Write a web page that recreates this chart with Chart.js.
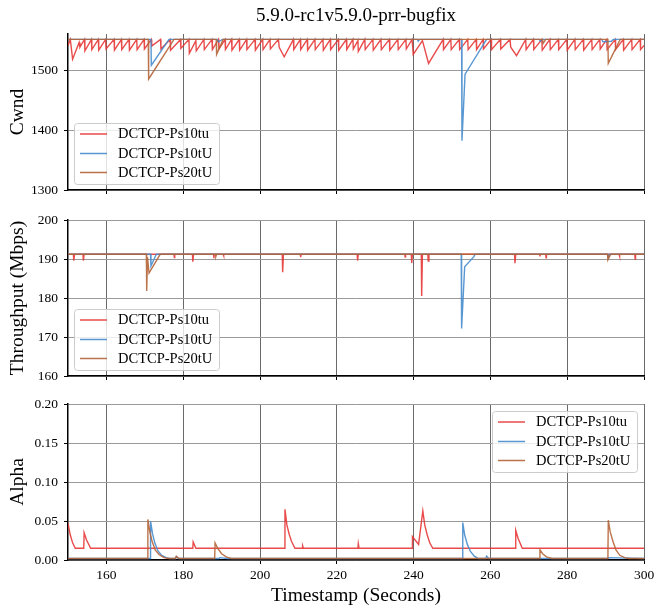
<!DOCTYPE html>
<html>
<head>
<meta charset="utf-8">
<script src="https://cdn.jsdelivr.net/npm/chart.js@4.4.0/dist/chart.umd.min.js"></script>
<style>
body{margin:0;background:#fff;}
#wrap{position:relative;width:664px;height:615px;}
canvas{position:absolute;left:0;}
</style>
</head>
<body>
<div id="wrap">
<canvas id="cwnd" width="664" height="200" style="top:0"></canvas>
<canvas id="tput" width="664" height="190" style="top:200px"></canvas>
<canvas id="alpha" width="664" height="225" style="top:390px"></canvas>
</div>
<script>
// labels and ticks
let title = "5.9.0-rc1v5.9.0-prr-bugfix";
let names = ["DCTCP-Ps10tu", "DCTCP-Ps10tU", "DCTCP-Ps20tU"];
let xTicks = [160, 180, 200, 220, 240, 260, 280, 300];
let cwndTicks = [1300, 1400, 1500];
let tputTicks = [160, 170, 180, 190, 200];
let alphaTicks = [0, 0.05, 0.10, 0.15, 0.20];
let alphaTickLabels = ["0.00", "0.05", "0.10", "0.15", "0.20"];

// [timestamp, value]
let cwndRed = [
[150.0,1541],[150.6,1551],[151.2,1518],[152.9,1546],[153.1,1538],[154.3,1551],
[154.4,1532],[156.1,1551],[156.2,1534],[157.9,1551],[158.0,1533],[159.8,1551],
[159.9,1535],[162.0,1551],[162.1,1533],[163.9,1551],[164.0,1534],[165.9,1551],
[166.0,1533],[167.9,1551],[168.0,1534],[169.8,1551],[169.9,1535],[171.7,1551],
[171.8,1540],[174.1,1551],[174.2,1535],[176.6,1551],[176.7,1533],[179.3,1551],
[179.4,1536],[181.5,1551],[181.6,1528],[183.3,1549],[183.4,1532],[185.4,1551],
[185.5,1534],[187.5,1551],[187.6,1534],[189.2,1551],[189.3,1535],[190.9,1551],
[191.0,1534],[192.6,1551],[192.7,1533],[194.6,1551],[194.7,1533],[196.5,1551],
[196.6,1534],[198.7,1551],[198.8,1533],[200.7,1551],[200.8,1534],[202.6,1551],
[202.7,1535],[204.8,1551],[205.0,1538],[206.3,1522],[208.7,1551],[208.8,1534],
[210.5,1551],[210.6,1534],[212.3,1551],[212.4,1533],[214.3,1551],[214.4,1534],
[216.4,1551],[216.5,1533],[218.3,1551],[218.4,1534],[220.4,1551],[220.5,1533],
[222.5,1551],[222.6,1534],[224.2,1551],[224.3,1535],[225.5,1549],[225.6,1531],
[227.3,1551],[227.4,1534],[229.4,1551],[229.5,1533],[231.5,1551],[231.6,1534],
[233.7,1551],[233.8,1533],[235.9,1551],[236.0,1534],[238.0,1551],[238.1,1535],
[239.6,1551],[239.9,1526],[242.3,1549],[243.9,1511],[247.7,1551],[247.8,1534],
[249.7,1551],[249.8,1534],[251.9,1551],[252.0,1534],[254.1,1551],[254.2,1534],
[256.3,1551],[256.4,1534],[258.1,1551],[258.2,1535],[260.2,1551],[260.3,1534],
[262.6,1551],[262.7,1535],[265.1,1551],[265.3,1538],[266.8,1524],[269.2,1551],
[269.3,1534],[271.2,1551],[271.3,1534],[273.4,1551],[273.5,1533],[275.5,1551],
[275.6,1534],[277.7,1551],[277.8,1534],[279.9,1551],[280.0,1533],[282.0,1551],
[282.1,1534],[284.2,1551],[284.3,1533],[286.4,1551],[286.5,1534],[288.5,1551],
[288.6,1535],[290.3,1551],[290.4,1534],[292.5,1551],[292.6,1534],[294.6,1551],
[294.7,1533],[296.8,1551],[296.9,1534],[299.0,1551],[299.1,1534],[300.0,1541]
];
let cwndBlue = [
[150,1551],[171.6,1551],[171.7,1508],[176.3,1551],[188.9,1551],[189.2,1547],
[190.2,1551],[241.0,1551],[241.2,1548],[241.6,1551],[252.5,1551],[252.6,1382],
[253.4,1493],[259.0,1551],[272.8,1551],[273.0,1548],[273.4,1551],[289.0,1551],
[289.3,1547],[291.5,1548],[292.0,1551],[300,1551]
];
let cwndBrown = [
[150,1551],[170.9,1551],[171.0,1485],[177.6,1551],[188.6,1551],[188.7,1526],
[190.4,1551],[273.6,1551],[273.7,1544],[274.4,1551],[290.6,1551],[290.7,1511],
[293.8,1551],[300,1551]
];

let tputRed = [
[150,191.2],[151.4,191.2],[151.5,189.6],[151.7,191.2],[153.9,191.2],[154.0,189.6],
[154.2,191.2],[177.6,191.2],[177.7,190.4],[177.8,191.2],[182.4,191.2],[182.5,189.3],
[182.7,191.2],[187.9,191.2],[188.0,190.2],[188.1,191.2],[190.4,191.2],[190.5,190.8],
[190.6,191.2],[205.8,191.2],[205.9,186.6],[206.1,191.2],[210.5,191.2],[210.6,190.5],
[210.7,191.2],[225.3,191.2],[225.4,189.6],[225.6,191.2],[237.7,191.2],[237.8,190.5],
[237.9,191.2],[239.4,191.2],[239.5,189.0],[239.7,191.2],[242.0,191.2],[242.1,180.5],
[242.3,191.2],[243.7,191.2],[243.8,189.5],[244.0,191.2],[266.3,191.2],[266.4,188.9],
[266.6,191.2],[272.8,191.2],[272.9,190.7],[273.0,191.2],[274.4,191.2],[274.5,190.3],
[274.6,191.2],[293.5,191.2],[293.6,190.7],[293.7,191.2],[297.6,191.2],[297.7,190.0],
[297.8,191.2],[300,191.2]
];
let tputBlue = [
[150,191.2],[171.5,191.2],[171.6,188.2],[173.0,191.2],[252.4,191.2],[252.5,172.2],
[253.3,188.0],[255.7,190.6],[256.0,191.2],[290.5,191.2],[290.7,190.4],[291.0,191.2],
[300,191.2]
];
let tputBrown = [
[150,191.2],[170.4,191.2],[170.5,181.8],[170.7,190.5],[171.1,186.4],[174.0,191.2],
[188.4,191.2],[188.5,190.6],[188.7,191.2],[290.5,191.2],[290.6,189.8],[291.3,191.2],
[300,191.2]
];

let alphaRed = [
[150,0.047],[150.6,0.032],[151.2,0.022],[151.9,0.015],[154.1,0.015],[154.2,0.035],
[154.8,0.026],[155.9,0.015],[182.5,0.015],[182.6,0.023],[183.3,0.015],[206.4,0.015],
[206.5,0.065],[207.0,0.045],[207.6,0.033],[208.2,0.024],[209.1,0.015],[211.0,0.015],
[211.1,0.018],[211.3,0.015],[225.5,0.015],[225.6,0.021],[225.8,0.015],[239.6,0.015],
[239.7,0.030],[241.3,0.020],[242.4,0.063],[242.9,0.045],[243.5,0.033],[244.2,0.022],
[245.0,0.015],[266.5,0.015],[266.6,0.038],[267.2,0.028],[268.3,0.015],[300,0.015]
];
let alphaBlue = [
[150,0.002],[171.4,0.002],[171.5,0.050],[172.0,0.034],[172.6,0.022],[173.4,0.012],
[174.4,0.006],[175.6,0.003],[176.6,0.002],[178.0,0.002],[178.2,0.004],[178.8,0.002],
[189.3,0.002],[189.6,0.003],[191.5,0.002],[252.7,0.002],[252.8,0.048],[253.3,0.032],
[254.0,0.020],[254.8,0.011],[255.8,0.005],[256.8,0.002],[258.8,0.002],[259.0,0.005],
[259.6,0.002],[290.5,0.002],[290.8,0.003],[300,0.002]
];
let alphaBrown = [
[150,0.002],[170.7,0.002],[170.8,0.052],[171.3,0.036],[171.9,0.024],[172.7,0.013],
[173.7,0.007],[175.0,0.003],[176.2,0.002],[178.0,0.002],[178.2,0.005],[178.9,0.002],
[188.2,0.002],[188.3,0.022],[189.0,0.015],[190.0,0.008],[191.2,0.004],[192.5,0.002],
[272.8,0.002],[272.9,0.013],[273.6,0.008],[274.6,0.004],[276.0,0.002],[290.6,0.002],
[290.7,0.051],[291.2,0.036],[291.9,0.024],[292.7,0.013],[293.7,0.006],[295.0,0.003],
[296.0,0.002],[300,0.002]
];

Chart.defaults.font.family = "'Liberation Serif', 'Times New Roman', serif";
Chart.defaults.color = "#000";

let RED = "rgba(230,50,50,0.88)";
let BLUE = "rgba(70,140,205,0.9)";
let BROWN = "rgba(180,100,55,0.9)";

function series(label, arr, color, order){
    return {
        label: label,
        data: arr.map(p => ({x: p[0], y: p[1]})),
        borderColor: color,
        borderWidth: 1.4,
        pointRadius: 0,
        fill: false,
        tension: 0,
        order: order
    };
}

// legend box drawn inside the plot area, like matplotlib
let boxLegend = {
    id: "boxLegend",
    afterDraw(chart, args, opts){
        let ctx = chart.ctx, a = chart.chartArea;
        let w = 145, h = 61;
        let x = opts.corner == "tr" ? a.right - 7 - w : a.left + 6;
        let y = opts.corner == "tr" ? a.top + 7 : a.bottom - 6 - h;
        let rows = [11, 30.5, 49.5];
        ctx.save();
        ctx.beginPath();
        if(ctx.roundRect) ctx.roundRect(x + 0.5, y + 0.5, w, h, 3);
        else ctx.rect(x + 0.5, y + 0.5, w, h);
        ctx.fillStyle = "rgba(255,255,255,0.8)";
        ctx.fill();
        ctx.strokeStyle = "#cccccc";
        ctx.lineWidth = 1;
        ctx.stroke();
        chart.data.datasets.forEach((ds, i) => {
            let yy = y + rows[i];
            ctx.strokeStyle = ds.borderColor;
            ctx.lineWidth = 1.5;
            ctx.beginPath();
            ctx.moveTo(x + 6, yy);
            ctx.lineTo(x + 33, yy);
            ctx.stroke();
            ctx.fillStyle = "#000";
            ctx.font = "14.5px 'Liberation Serif', serif";
            ctx.textBaseline = "middle";
            ctx.textAlign = "left";
            ctx.fillText(ds.label, x + 44, yy + 0.5);
        });
        ctx.restore();
    }
};

let plotTitle = {
    id: "plotTitle",
    afterDraw(chart, args, opts){
        if(!opts.text) return;
        let ctx = chart.ctx, a = chart.chartArea;
        ctx.save();
        ctx.fillStyle = "#000";
        ctx.font = "19px 'Liberation Serif', serif";
        ctx.textAlign = "center";
        ctx.textBaseline = "middle";
        ctx.fillText(opts.text, (a.left + a.right) / 2, 16.5);
        ctx.restore();
    }
};

function panel(id, p){
    return new Chart(document.getElementById(id), {
        type: "line",
        data: {
            datasets: [
                series(names[0], p.data[0], RED, 3),
                series(names[1], p.data[1], BLUE, 2),
                series(names[2], p.data[2], BROWN, 1)
            ]
        },
        plugins: [boxLegend, plotTitle],
        options: {
            responsive: false,
            animation: false,
            events: [],
            layout: {padding: {top: p.padTop, right: 20, left: 0, bottom: 0}},
            plugins: {
                legend: {display: false},
                tooltip: {enabled: false},
                boxLegend: {corner: p.corner},
                plotTitle: {text: p.title || ""}
            },
            scales: {
                x: {
                    type: "linear",
                    min: 150,
                    max: 300,
                    afterBuildTicks: s => { s.ticks = xTicks.map(v => ({value: v})); },
                    afterFit: s => { s.height = p.xHeight; s.paddingLeft = 0; s.paddingRight = 0; },
                    grid: {color: "#6a6a6a", lineWidth: 1, tickLength: 4, tickColor: "#000"},
                    border: {color: "#000", width: 1.5},
                    ticks: {
                        callback: v => p.showX ? String(v) : "",
                        font: {size: 13.5},
                        padding: 3,
                        maxRotation: 0
                    },
                    title: {
                        display: !!p.xTitle,
                        text: p.xTitle || "",
                        font: {size: 19.5},
                        padding: {top: 0, bottom: 7}
                    }
                },
                y: {
                    min: p.yMin,
                    max: p.yMax,
                    afterBuildTicks: s => { s.ticks = p.yTicks.map(v => ({value: v})); },
                    afterFit: s => { s.width = 68; s.paddingTop = 0; s.paddingBottom = 0; },
                    grid: {color: "#9a9a9a", lineWidth: 1, tickLength: 4, tickColor: "#000"},
                    border: {color: "#000", width: 1.5},
                    ticks: {
                        callback: (v, i) => p.yLabels[i],
                        font: {size: 13.5},
                        padding: 6
                    },
                    title: {
                        display: true,
                        text: p.yTitle,
                        font: {size: 19.5},
                        padding: {top: 6, bottom: 0}
                    }
                }
            }
        }
    });
}

panel("cwnd", {
    data: [cwndRed, cwndBlue, cwndBrown],
    padTop: 34, xHeight: 10, showX: false,
    yMin: 1300, yMax: 1560, yTicks: cwndTicks, yLabels: cwndTicks.map(String),
    yTitle: "Cwnd", corner: "bl", title: title
});

panel("tput", {
    data: [tputRed, tputBlue, tputBrown],
    padTop: 20, xHeight: 14, showX: false,
    yMin: 160, yMax: 200, yTicks: tputTicks, yLabels: tputTicks.map(String),
    yTitle: "Throughput (Mbps)", corner: "bl"
});

panel("alpha", {
    data: [alphaRed, alphaBlue, alphaBrown],
    padTop: 14, xHeight: 55, showX: true, xTitle: "Timestamp (Seconds)",
    yMin: 0, yMax: 0.2, yTicks: alphaTicks, yLabels: alphaTickLabels,
    yTitle: "Alpha", corner: "tr"
});
</script>
</body>
</html>
